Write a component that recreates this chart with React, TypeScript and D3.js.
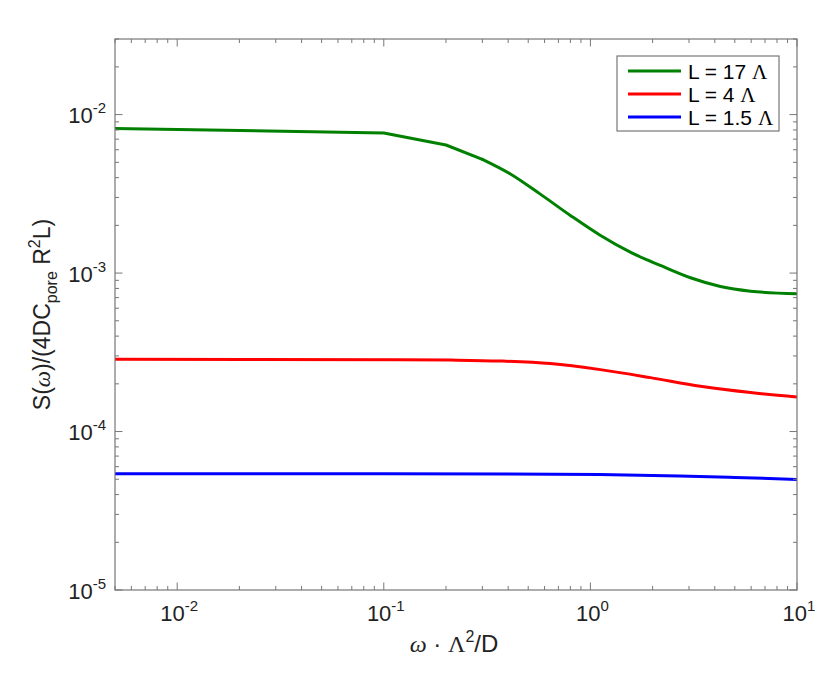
import React from "react";
import * as d3 from "d3";

const W = 830;
const H = 695;

const seriesNames = ["L = 17 ", "L = 4 ", "L = 1.5 "];
const seriesColors = ["#008000", "#ff0000", "#0000ff"];

// green: coarse part (straight segments) and smooth part
const greenCoarseX = [0.005, 0.1, 0.2, 0.3];
const greenCoarseY = [8.18e-3, 7.66e-3, 6.43e-3, 5.22e-3];
const greenSmoothX = [0.3, 0.41, 0.57, 0.8, 1.12, 1.56, 2.18, 3.05, 4.26, 5.96, 10];
const greenSmoothY = [5.22e-3, 4.22e-3, 3.16e-3, 2.31e-3, 1.725e-3, 1.354e-3, 1.117e-3, 9.34e-4, 8.23e-4, 7.69e-4, 7.41e-4];

const redX = [0.005, 0.12, 0.21, 0.366, 0.64, 1.117, 1.953, 3.41, 5.96, 10];
const redY = [2.855e-4, 2.842e-4, 2.826e-4, 2.786e-4, 2.683e-4, 2.459e-4, 2.189e-4, 1.929e-4, 1.761e-4, 1.652e-4];

const blueX = [0.005, 0.1, 0.4, 1.1, 2.7, 5, 10];
const blueY = [5.41e-5, 5.41e-5, 5.39e-5, 5.36e-5, 5.25e-5, 5.13e-5, 4.99e-5];

const xDomain = [0.005, 10];
const yDomain = [1e-5, 0.03];
const xMajor = [1e-2, 1e-1, 1, 10];
const xMajorExp = ["-2", "-1", "0", "1"];
const yMajor = [1e-5, 1e-4, 1e-3, 1e-2];
const yMajorExp = ["-5", "-4", "-3", "-2"];

const L = 115, R = 797, T = 39, B = 590;

function minorTicks(lo: number, hi: number) {
  const out: number[] = [];
  for (let e = -6; e <= 2; e++) {
    for (let m = 2; m <= 9; m++) {
      const v = m * Math.pow(10, e);
      if (v >= lo * 0.9999 && v <= hi * 1.0001) out.push(v);
    }
  }
  return out;
}

export default function App() {
  const x = d3.scaleLog().domain(xDomain).range([L, R]);
  const y = d3.scaleLog().domain(yDomain).range([B, T]);
  const lineLin = d3
    .line<[number, number]>()
    .x((d) => x(d[0]))
    .y((d) => y(d[1]));
  const lineSmooth = d3
    .line<[number, number]>()
    .x((d) => x(d[0]))
    .y((d) => y(d[1]))
    .curve(d3.curveMonotoneX);
  const paths = [
    { d: lineLin(d3.zip(greenCoarseX, greenCoarseY) as [number, number][]), c: seriesColors[0] },
    { d: lineSmooth(d3.zip(greenSmoothX, greenSmoothY) as [number, number][]), c: seriesColors[0] },
    { d: lineSmooth(d3.zip(redX, redY) as [number, number][]), c: seriesColors[1] },
    { d: lineSmooth(d3.zip(blueX, blueY) as [number, number][]), c: seriesColors[2] },
  ];
  const xMinor = minorTicks(xDomain[0], xDomain[1]);
  const yMinor = minorTicks(yDomain[0], yDomain[1]);
  const axisColor = "#777";
  const font = "Liberation Sans, Arial, Helvetica, sans-serif";
  const serif = "Liberation Serif, Times New Roman, serif";
  const majLen = 7.5, minLen = 4;

  const legX = 617, legY = 56, legW = 162, legH = 75;
  const rowY = [71, 94, 117];

  return (
    <svg width={W} height={H} style={{ position: "absolute", left: 0, top: 0, background: "#fff" }} fontFamily={font}>
      <defs>
        <clipPath id="clip">
          <rect x={L} y={T} width={R - L} height={B - T} />
        </clipPath>
      </defs>
      <rect x={0} y={0} width={W} height={H} fill="#fff" />
      <g clipPath="url(#clip)">
        {paths.map((p, i) => (
          <path key={i} d={p.d || ""} fill="none" stroke={p.c} strokeWidth={3} strokeLinejoin="round" strokeLinecap="round" />
        ))}
      </g>
      <g stroke={axisColor} strokeWidth={1}>
        {xMajor.map((v, i) => (
          <g key={"xm" + i}>
            <line x1={x(v)} x2={x(v)} y1={B} y2={B - majLen} />
            <line x1={x(v)} x2={x(v)} y1={T} y2={T + majLen} />
          </g>
        ))}
        {xMinor.map((v, i) => (
          <g key={"xn" + i}>
            <line x1={x(v)} x2={x(v)} y1={B} y2={B - minLen} />
            <line x1={x(v)} x2={x(v)} y1={T} y2={T + minLen} />
          </g>
        ))}
        {yMajor.map((v, i) => (
          <g key={"ym" + i}>
            <line x1={L} x2={L + majLen} y1={y(v)} y2={y(v)} />
            <line x1={R} x2={R - majLen} y1={y(v)} y2={y(v)} />
          </g>
        ))}
        {yMinor.map((v, i) => (
          <g key={"yn" + i}>
            <line x1={L} x2={L + minLen} y1={y(v)} y2={y(v)} />
            <line x1={R} x2={R - minLen} y1={y(v)} y2={y(v)} />
          </g>
        ))}
      </g>
      <rect x={L} y={T} width={R - L} height={B - T} fill="none" stroke={axisColor} strokeWidth={1.2} />
      <g fill="#222" fontSize={22}>
        {xMajor.map((v, i) => (
          <text key={"xl" + i} x={x(v) + 2} y={621} textAnchor="middle">
            10<tspan dy={-10} fontSize={15}>{xMajorExp[i]}</tspan>
          </text>
        ))}
        {yMajor.map((v, i) => (
          <text key={"yl" + i} x={106} y={y(v) + 8.5} textAnchor="end">
            10<tspan dy={-10} fontSize={15}>{yMajorExp[i]}</tspan>
          </text>
        ))}
      </g>
      <text x={454} y={652} textAnchor="middle" fontSize={24} fill="#222">
        <tspan fontFamily={serif} fontStyle="italic">ω</tspan>
        <tspan> · </tspan>
        <tspan fontFamily={serif}>Λ</tspan>
        <tspan dy={-10} fontSize={16}>2</tspan>
        <tspan dy={10}>/D</tspan>
      </text>
      <text transform={`translate(50, ${(T + B) / 2}) rotate(-90)`} textAnchor="middle" fontSize={23} fill="#222">
        <tspan>S(</tspan>
        <tspan fontFamily={serif} fontStyle="italic">ω</tspan>
        <tspan>)/(4DC</tspan>
        <tspan dy={7} fontSize={16}>pore</tspan>
        <tspan dy={-7}> R</tspan>
        <tspan dy={-10} fontSize={16}>2</tspan>
        <tspan dy={10}>L)</tspan>
      </text>
      <rect x={legX} y={legY} width={legW} height={legH} fill="#fff" stroke={axisColor} strokeWidth={1.2} />
      {seriesNames.map((n, i) => (
        <g key={"lg" + i}>
          <line x1={628} x2={681} y1={rowY[i]} y2={rowY[i]} stroke={seriesColors[i]} strokeWidth={3} />
          <text x={688} y={rowY[i] + 7.5} fontSize={21} fill="#000">
            {n}
            <tspan fontFamily={serif}>Λ</tspan>
          </text>
        </g>
      ))}
    </svg>
  );
}
